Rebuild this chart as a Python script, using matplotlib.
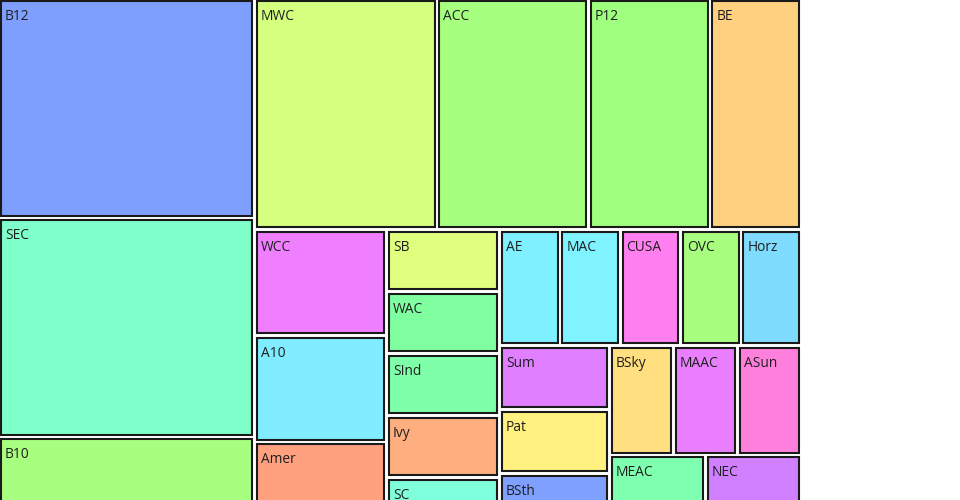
import matplotlib
matplotlib.use("Agg")
import matplotlib.pyplot as plt
from matplotlib.patches import Rectangle

# conferences in data order (hidden ones fall below the visible area)
names = ["B12", "SEC", "B10", "MWC", "ACC", "P12", "BE", "WCC", "A10", "Amer",
         "SB", "WAC", "SInd", "Ivy", "SC", "MVC", "AE", "MAC", "CUSA", "OVC",
         "Horz", "Sum", "Pat", "BSth", "CAA", "BSky", "MAAC", "ASun", "MEAC", "BW",
         "NEC"]
values = [8, 8, 6, 6, 5, 4, 3, 2, 2, 3,
          1, 1, 1, 1, 1, 1, 1, 1, 1, 1,
          1, 1, 1, 1, 1, 1, 1, 1, 1, 1,
          2]
colors = ["#7f9fff", "#7fffca", "#a8ff7f", "#d4ff7f", "#a6ff7f", "#9fff7f", "#ffd07f", "#ef7fff", "#7fecff", "#ffa07f",
          "#e0ff7f", "#7fff9f", "#7fffaa", "#ffaf7f", "#7fffdc", "#ffc07f", "#7ff0ff", "#7ff3ff", "#ff7ff0", "#a8ff7f",
          "#7fdcff", "#e07fff", "#fff07f", "#7fa0ff", "#bfff7f", "#ffdf7f", "#e97fff", "#ff7fdc", "#7fffb0", "#7fb0ff",
          "#cf7fff"]

W, H = 800, 600
PAD = 2.5
PHI = (1 + 5 ** 0.5) / 2


def squarify(vals, x0, y0, x1, y1, ratio=PHI):
    # same steps as d3.treemapSquarify
    n = len(vals)
    out = [None] * n
    i0 = i1 = 0
    value = float(sum(vals))
    while i0 < n:
        dx, dy = x1 - x0, y1 - y0
        s = vals[i1]
        i1 += 1
        lo = hi = s
        alpha = max(dy / dx, dx / dy) / (value * ratio)
        beta = s * s * alpha
        best = max(hi / beta, beta / lo)
        while i1 < n:
            v = vals[i1]
            s += v
            lo, hi = min(lo, v), max(hi, v)
            beta = s * s * alpha
            r = max(hi / beta, beta / lo)
            if r > best:
                s -= v
                break
            best = r
            i1 += 1
        idx = list(range(i0, i1))
        if dx < dy:
            ny = y0 + dy * s / value if value else y1
            xx = x0
            for i in idx:
                w = dx * vals[i] / s
                out[i] = (xx, y0, xx + w, ny)
                xx += w
            y0 = ny
        else:
            nx = x0 + dx * s / value if value else x1
            yy = y0
            for i in idx:
                h = dy * vals[i] / s
                out[i] = (x0, yy, nx, yy + h)
                yy += h
            x0 = nx
        value -= s
        i0 = i1
    return out


cells = squarify(values, -PAD / 2, -PAD / 2, W + PAD / 2, H + PAD / 2)

fig = plt.figure(figsize=(9.6, 5), dpi=100)
ax = fig.add_axes([0, 0, 1, 1])
ax.set_xlim(0, 960)
ax.set_ylim(500, 0)
ax.axis("off")

for name, col, (x0, y0, x1, y1) in zip(names, colors, cells):
    x0, y0, x1, y1 = x0 + PAD / 2, y0 + PAD / 2, x1 - PAD / 2, y1 - PAD / 2
    ax.add_patch(Rectangle((x0 + 1, y0 + 1), x1 - x0 - 2, y1 - y0 - 2,
                           facecolor=col, edgecolor="#1a1a1a", linewidth=1.5))
    ax.text(x0 + 5, y0 + 20, name, fontsize=9.9, family=["Open Sans", "DejaVu Sans"],
            color="#1e1e1e", va="baseline", ha="left")

fig.savefig("out.png", dpi=100)
